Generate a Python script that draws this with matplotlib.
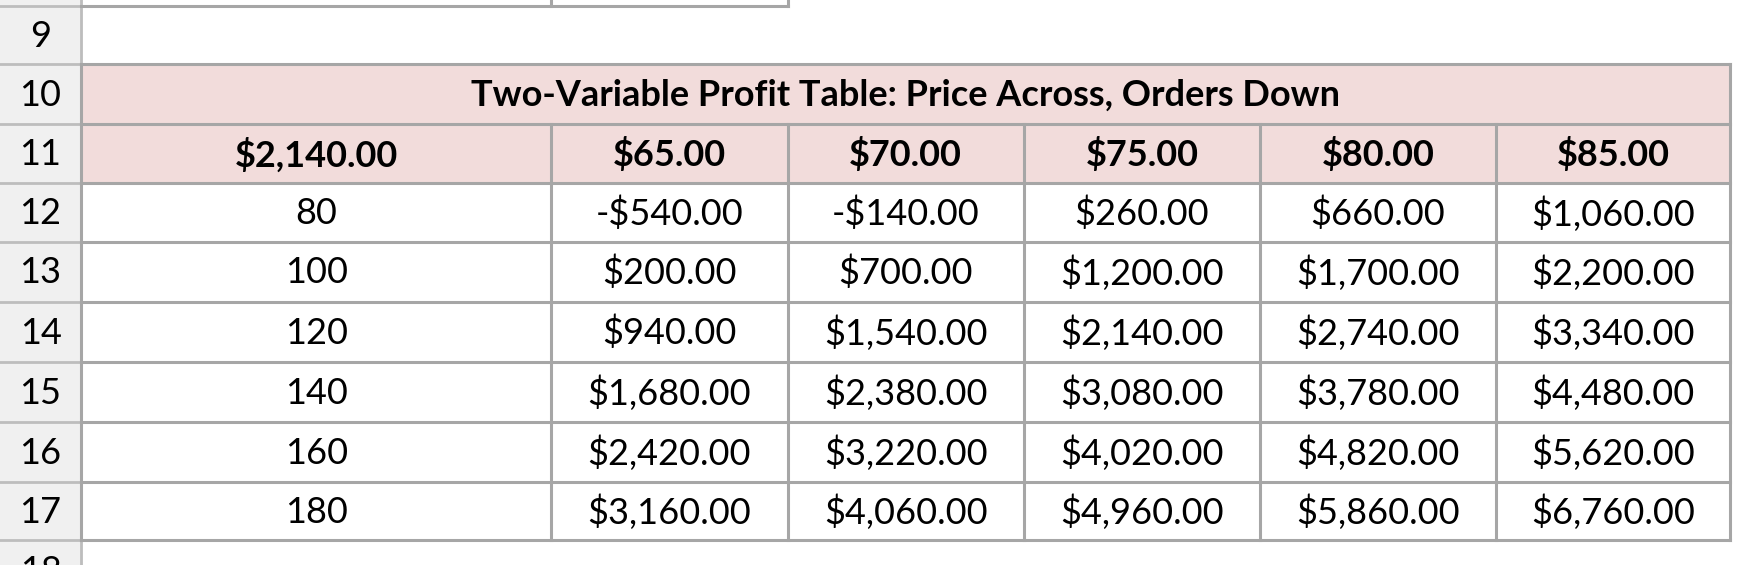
import matplotlib.pyplot as plt
from matplotlib.patches import Rectangle

# data
title = "Two-Variable Profit Table: Price Across, Orders Down"
corner = "$2,140.00"
prices = [65, 70, 75, 80, 85]
orders = [80, 100, 120, 140, 160, 180]
profits = [
    [-540, -140, 260, 660, 1060],
    [200, 700, 1200, 1700, 2200],
    [940, 1540, 2140, 2740, 3340],
    [1680, 2380, 3080, 3780, 4480],
    [2420, 3220, 4020, 4820, 5620],
    [3160, 4060, 4960, 5860, 6760],
]
row_nums = [9, 10, 11, 12, 13, 14, 15, 16, 17, 18]


def money(v):
    s = "${:,.2f}".format(abs(v))
    return "-" + s if v < 0 else s


W, H = 1755, 565
fig = plt.figure(figsize=(W / 100, H / 100), dpi=100)
ax = fig.add_axes([0, 0, 1, 1])
ax.set_xlim(0, 1560)
ax.set_ylim(502, 0)
ax.axis("off")

fam = ["Lato", "DejaVu Sans"]
fs = 26
grid = "#a6a6a6"
pink = "#f2dcdb"

col_x = [72, 490, 700, 910, 1120, 1330, 1538]
row_y = [5, 57, 110, 163, 215, 268, 322, 375, 428, 480, 533]

# row header strip
ax.add_patch(Rectangle((0, -5), 72, 520, color="#f0f0f0", zorder=0))
ax.plot([72, 72], [-5, 520], color="#bdbdbd", lw=2)
for y in row_y:
    ax.plot([0, 72], [y, y], color="#bdbdbd", lw=2)
for i, n in enumerate(row_nums):
    ax.text(36, (row_y[i] + row_y[i + 1]) / 2 + 1, str(n), ha="center", va="center",
            fontsize=fs, family=fam)

# pink header rows
ax.add_patch(Rectangle((72, row_y[1]), col_x[-1] - 72, row_y[3] - row_y[1], color=pink, zorder=0))

# previous table remnant (row 8)
ax.plot([72, 700], [5, 5], color=grid, lw=2.2)
for x in (490, 700):
    ax.plot([x, x], [-5, 5], color=grid, lw=2.2)

# grid of table
for k in range(1, 10):
    ax.plot([72, col_x[-1]], [row_y[k], row_y[k]], color=grid, lw=2.2)
for x in col_x:
    top = row_y[1] if x in (72, col_x[-1]) else row_y[2]
    ax.plot([x, x], [top, row_y[9]], color=grid, lw=2.2)

ax.text((72 + col_x[-1]) / 2, (row_y[1] + row_y[2]) / 2 + 1, title, ha="center", va="center",
        fontsize=fs, fontweight="bold", family=fam)

yc = (row_y[2] + row_y[3]) / 2 + 1
ax.text((col_x[0] + col_x[1]) / 2, yc, corner, ha="center", va="center",
        fontsize=fs, fontweight="bold", family=fam)
for j, p in enumerate(prices):
    ax.text((col_x[j + 1] + col_x[j + 2]) / 2, yc, money(p), ha="center", va="center",
            fontsize=fs, fontweight="bold", family=fam)

for i, o in enumerate(orders):
    yc = (row_y[i + 3] + row_y[i + 4]) / 2 + 1
    ax.text((col_x[0] + col_x[1]) / 2, yc, str(o), ha="center", va="center",
            fontsize=fs, family=fam)
    for j, v in enumerate(profits[i]):
        ax.text((col_x[j + 1] + col_x[j + 2]) / 2, yc, money(v), ha="center", va="center",
                fontsize=fs, family=fam)

fig.savefig("out.png", dpi=100)
